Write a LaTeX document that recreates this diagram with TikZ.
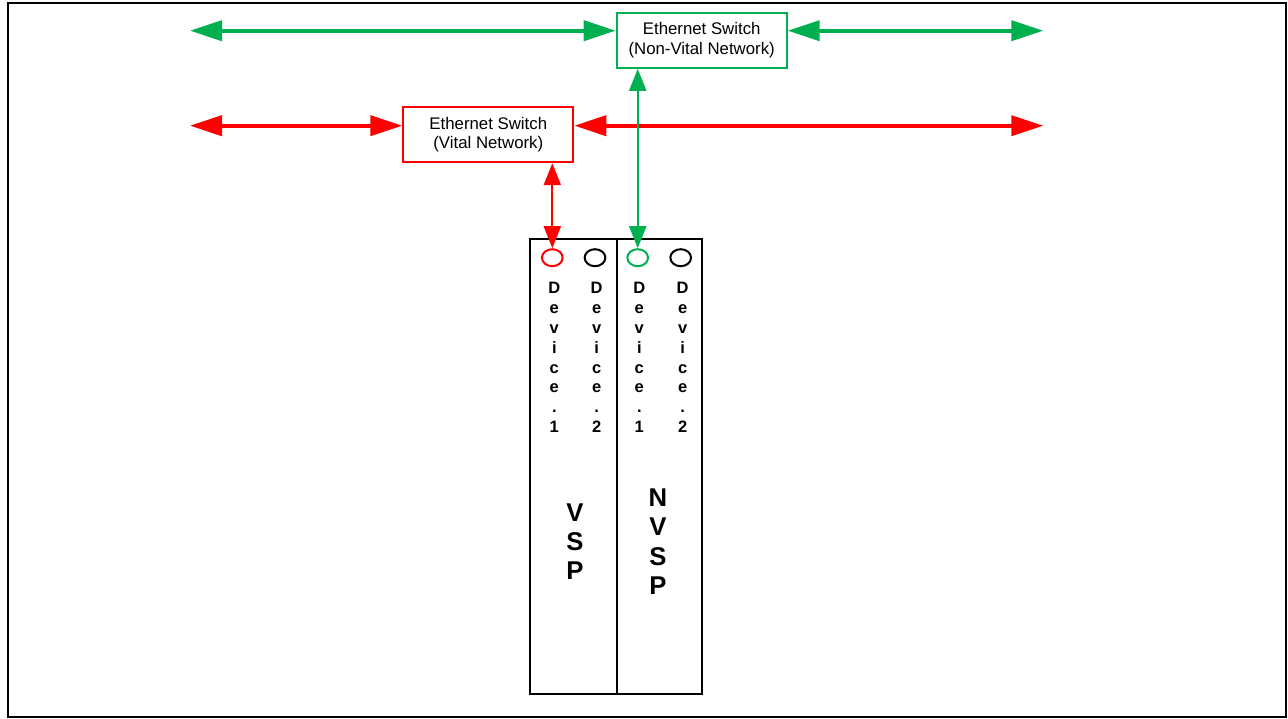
\documentclass[tikz,border=0pt]{standalone}
\usepackage{fontspec}
\setmainfont{Liberation Sans}
\usetikzlibrary{arrows.meta,shapes.geometric}
\definecolor{netgreen}{RGB}{0,176,80}
\definecolor{netred}{RGB}{255,0,0}
\tikzset{
  switchbox/.style={draw, line width=2pt, fill=white, minimum width=170pt, minimum height=55pt, inner sep=0pt, align=center, font=\fontsize{16.8}{19.5}\selectfont},
  bigarrow/.style={line width=4pt, {Triangle[length=32pt,width=20pt]}-{Triangle[length=32pt,width=20pt]}},
  smallarrow/.style={line width=2pt, {Triangle[length=22pt,width=17pt]}-{Triangle[length=22pt,width=17pt]}},
  port/.style={ellipse, draw, line width=2pt, minimum width=20.7pt, minimum height=17pt, inner sep=0pt},
  devlabel/.style={align=center, inner sep=0pt, font=\bfseries\fontsize{16.5}{19.9}\selectfont},
  panellabel/.style={align=center, inner sep=0pt, font=\bfseries\fontsize{25.7}{29.3}\selectfont},
  panel/.style={draw, line width=2pt}
}
\begin{document}
\begin{tikzpicture}[x=1pt,y=-1pt]
\useasboundingbox (0,0) rectangle (1288,719);
\draw[line width=2pt] (7.5,3) rectangle (1286,717.3);

% switches
\node[switchbox, draw=netgreen] (nvs) at (701.7,40.3) {Ethernet Switch\\(Non-Vital Network)};
\node[switchbox, draw=netred] (vs) at (488.3,134.7) {Ethernet Switch\\(Vital Network)};

% panel
\draw[panel] (530,239) rectangle (616.7,694);
\draw[panel] (616.7,239) rectangle (701.7,694);

% ports
\node[port, draw=netred] (p1) at (552.3,257.7) {};
\node[port, draw=black] (p2) at (595,257.7) {};
\node[port, draw=netgreen] (p3) at (637.7,257.7) {};
\node[port, draw=black] (p4) at (680.7,257.7) {};

% device labels
\node[devlabel] (d1) at (554.3,357.4) {D\\e\\v\\i\\c\\e\\.\\1};
\node[devlabel] (d2) at (596.7,357.4) {D\\e\\v\\i\\c\\e\\.\\2};
\node[devlabel] (d3) at (639.3,357.4) {D\\e\\v\\i\\c\\e\\.\\1};
\node[devlabel] (d4) at (682.7,357.4) {D\\e\\v\\i\\c\\e\\.\\2};

\node[panellabel] (vsp) at (575,541.7) {V\\S\\P};
\node[panellabel] (nvsp) at (658,541.7) {N\\V\\S\\P};

% network lines
\coordinate (gl) at (190,30.7);
\coordinate (gr) at (1043.3,30.7);
\coordinate (rl) at (190,125.7);
\coordinate (rr) at (1043.3,125.7);

\draw[bigarrow, netgreen] (gl) -- (gl -| nvs.west);
\draw[bigarrow, netgreen] (gr -| nvs.east) -- (gr);
\draw[bigarrow, netred] (rl) -- (rl -| vs.west);
\draw[bigarrow, netred] (rr -| vs.east) -- (rr);

\draw[smallarrow, netred] (p1.north |- vs.south) -- (p1.north);
\draw[smallarrow, netgreen] (p3.north |- nvs.south) -- (p3.north);
\end{tikzpicture}
\end{document}
